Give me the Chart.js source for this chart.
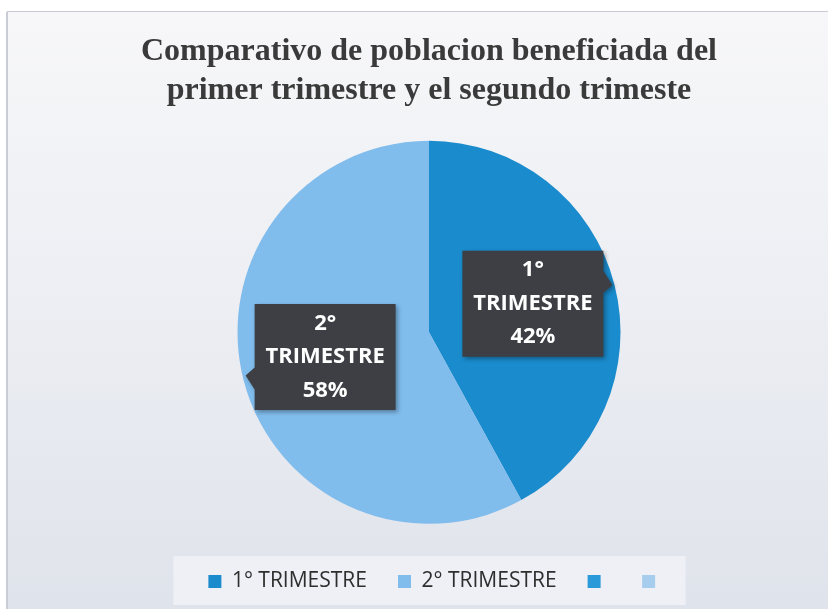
<!DOCTYPE html>
<html>
<head>
<meta charset="utf-8">
<script src="https://cdn.jsdelivr.net/npm/chart.js@4"></script>
<style>
  html, body { margin: 0; padding: 0; background: #ffffff; }
  #wrap { width: 828px; height: 609px; position: relative; }
</style>
</head>
<body>
<div id="wrap"><canvas id="pie_chart" width="828" height="609"></canvas></div>
<script>
// datos del grafico
const categorias = ["1° TRIMESTRE", "2° TRIMESTRE", "", ""];
const porcentajes = [42, 58, 0, 0];
const etiquetas = [["1°", "TRIMESTRE", "42%"], ["2°", "TRIMESTRE", "58%"], [], []];
const colores = ["#1a8bcc", "#80bcec", "#2a9ad8", "#a6cdee"];
const titulo = ["Comparativo de poblacion beneficiada del", "primer trimestre y el segundo trimeste"];

const desplazaLeyenda = 8;

// fondo gris azulado tipo Excel
const fondo = {
    id: 'fondo',
    afterLayout(chart) {
        // la leyenda del original esta un poco a la derecha
        chart.legend.left += desplazaLeyenda;
        chart.legend.right += desplazaLeyenda;
    },
    beforeDraw(chart) {
        const ctx = chart.ctx;
        const g = ctx.createLinearGradient(0, 12, 0, 609);
        g.addColorStop(0, '#f7f7f9');
        g.addColorStop(0.5, '#eceef3');
        g.addColorStop(1, '#dfe3eb');
        ctx.save();
        ctx.fillStyle = g;
        ctx.fillRect(7, 12, 821, 597);
        ctx.fillStyle = '#c9ccd3';
        ctx.fillRect(6, 12, 2, 597);
        ctx.fillRect(7, 11, 821, 1);
        // caja de la leyenda
        const lg = chart.legend;
        if (lg && lg.legendHitBoxes.length) {
            const hb = lg.legendHitBoxes;
            const x0 = hb[0].left - 35;
            const last = hb[hb.length - 1];
            const x1 = last.left + last.width + 20;
            const y0 = hb[0].top - 15;
            ctx.fillStyle = '#eef0f5';
            ctx.fillRect(x0, y0, x1 - x0, 605 - y0);
        }
        ctx.restore();
    }
};

// etiquetas tipo globo (callout)
const globos = {
    id: 'globos',
    afterDatasetsDraw(chart) {
        const ctx = chart.ctx;
        const meta = chart.getDatasetMeta(0);
        meta.data.forEach((arc, i) => {
            if (!porcentajes[i]) return;
            const p = arc.getProps(['x', 'y', 'startAngle', 'endAngle', 'outerRadius']);
            const mid = (p.startAngle + p.endAngle) / 2;
            const dx = Math.cos(mid), dy = Math.sin(mid);
            const cx = p.x + dx * p.outerRadius * 0.56;
            const cy = p.y + dy * p.outerRadius * 0.56 - 2;
            const w = 141, h = 106;
            const left = cx - w / 2, top = cy - h / 2;
            ctx.save();
            ctx.shadowColor = 'rgba(0,0,0,0.35)';
            ctx.shadowBlur = 4;
            ctx.shadowOffsetX = 2;
            ctx.shadowOffsetY = 2;
            ctx.fillStyle = '#3d3f44';
            ctx.beginPath();
            ctx.rect(left, top, w, h);
            // puntero hacia el borde
            const ty = cy + dy * 75;
            if (dx > 0) {
                ctx.moveTo(left + w, ty - 14);
                ctx.lineTo(left + w + 9, ty);
                ctx.lineTo(left + w, ty + 8);
            } else {
                ctx.moveTo(left, ty - 8);
                ctx.lineTo(left - 9, ty);
                ctx.lineTo(left, ty + 14);
            }
            ctx.fill();
            ctx.restore();
            ctx.save();
            ctx.fillStyle = '#ffffff';
            ctx.font = 'bold 22px "Open Sans"';
            ctx.textAlign = 'center';
            ctx.textBaseline = 'middle';
            const lines = etiquetas[i];
            lines.forEach((t, k) => {
                ctx.fillText(t, cx, cy + (k - 1) * 33.5);
            });
            ctx.restore();
        });
    }
};

new Chart(document.getElementById("pie_chart"), {
    type: 'pie',
    data: {
        labels: categorias,
        datasets: [{
            data: porcentajes,
            backgroundColor: colores,
            borderWidth: 0
        }]
    },
    options: {
        responsive: false,
        animation: false,
        layout: { padding: { left: 30, right: 0, top: 0, bottom: 7 } },
        plugins: {
            title: {
                display: true,
                text: titulo,
                color: '#3a3a3a',
                font: { family: '"Liberation Serif"', size: 32, weight: 'bold', lineHeight: 1.2 },
                padding: { top: 33, bottom: 31 }
            },
            legend: {
                position: 'bottom',
                title: {
                    display: true,
                    text: '',
                    font: { size: 1 },
                    padding: { top: 7, bottom: 8 }
                },
                labels: {
                    color: '#2e2e2e',
                    font: { family: '"Open Sans"', size: 21 },
                    boxWidth: 13,
                    boxHeight: 13,
                    padding: 31
                }
            },
            tooltip: { enabled: false }
        }
    },
    plugins: [fondo, globos]
});
</script>
</body>
</html>
